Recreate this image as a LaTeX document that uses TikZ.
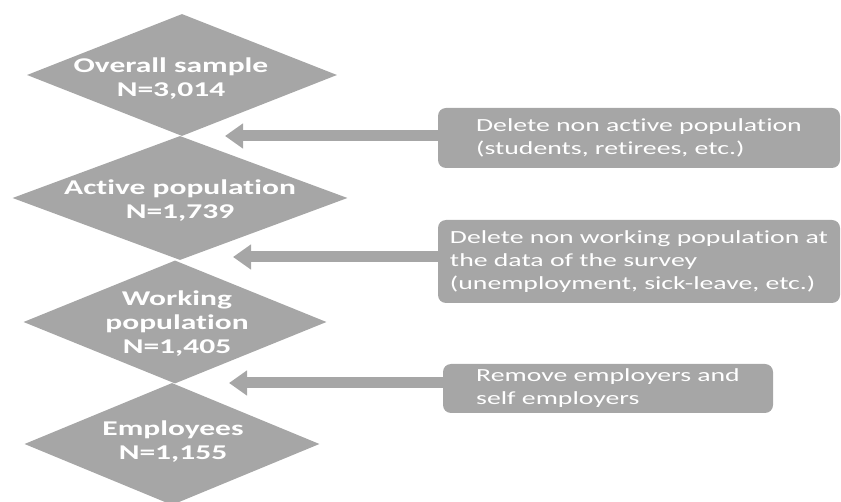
\documentclass[tikz,border=0pt]{standalone}
\usepackage{fontspec}
\setmainfont{Carlito}
\newfontfamily\stepfont[FakeStretch=1.5,Ligatures=NoCommon]{Carlito}
\newfontfamily\notefont[FakeStretch=1.5,Ligatures=NoCommon]{Carlito}
\usetikzlibrary{shapes.geometric,arrows.meta}
\definecolor{boxgray}{HTML}{A6A6A6}
\tikzset{
  stage/.style={shape=diamond, fill=boxgray, inner sep=0pt},
  stagetext/.style={align=center, text=white, inner sep=0pt,
    font=\stepfont\bfseries\fontsize{21}{24}\selectfont},
  note/.style={fill=boxgray, rounded corners=8pt, align=left, text=white,
    inner sep=0pt, font=\notefont\fontsize{18.5}{23}\selectfont},
  flowarrow/.style={draw=boxgray, line width=11pt,
    -{Triangle[length=18pt,width=24pt]}}
}
\begin{document}
\begin{tikzpicture}[x=1pt,y=-1pt]
\useasboundingbox (0,0) rectangle (841,502);
\clip (0,0) rectangle (841,502);

% sample reduction steps
\node[stage, minimum width=310pt, minimum height=122pt] (sample) at (182,75) {};
\node[stage, minimum width=335pt, minimum height=124pt] (active) at (180,198) {};
\node[stage, minimum width=303pt, minimum height=123pt] (working) at (175,322) {};
\node[stage, minimum width=295pt, minimum height=122pt] (employees) at (172,444) {};

\node[stagetext, xshift=-11pt, yshift=-4pt] (sample-text) at (sample)
  {Overall sample\\N=3,014};
\node[stagetext, yshift=-3pt] (active-text) at (active)
  {Active population\\N=1,739};
\node[stagetext, xshift=2pt, yshift=-2pt] (working-text) at (working)
  {Working\\population\\N=1,405};
\node[stagetext, xshift=1pt, yshift=2pt] (employees-text) at (employees)
  {Employees\\N=1,155};

% exclusion notes
\node[note, minimum width=402pt, minimum height=60pt] (del1) at (639,138)
  {Delete non active population\\(students, retirees, etc.)};
\node[note, minimum width=402pt, minimum height=83pt] (del2) at (639,261.5)
  {Delete non working population at\\the data of the survey\\(unemployment, sick-leave, etc.)};
\node[note, minimum width=330pt, minimum height=49pt] (del3) at (608,388.5)
  {Remove employers and\\self employers};

% arrow tips between stages
\coordinate (tip1) at (225,136);
\coordinate (tip2) at (233,257);
\coordinate (tip3) at (229,383);

\draw[flowarrow] (del1.west |- tip1) -- (tip1);
\draw[flowarrow] (del2.west |- tip2) -- (tip2);
\draw[flowarrow] (del3.west |- tip3) -- (tip3);
\end{tikzpicture}
\end{document}
